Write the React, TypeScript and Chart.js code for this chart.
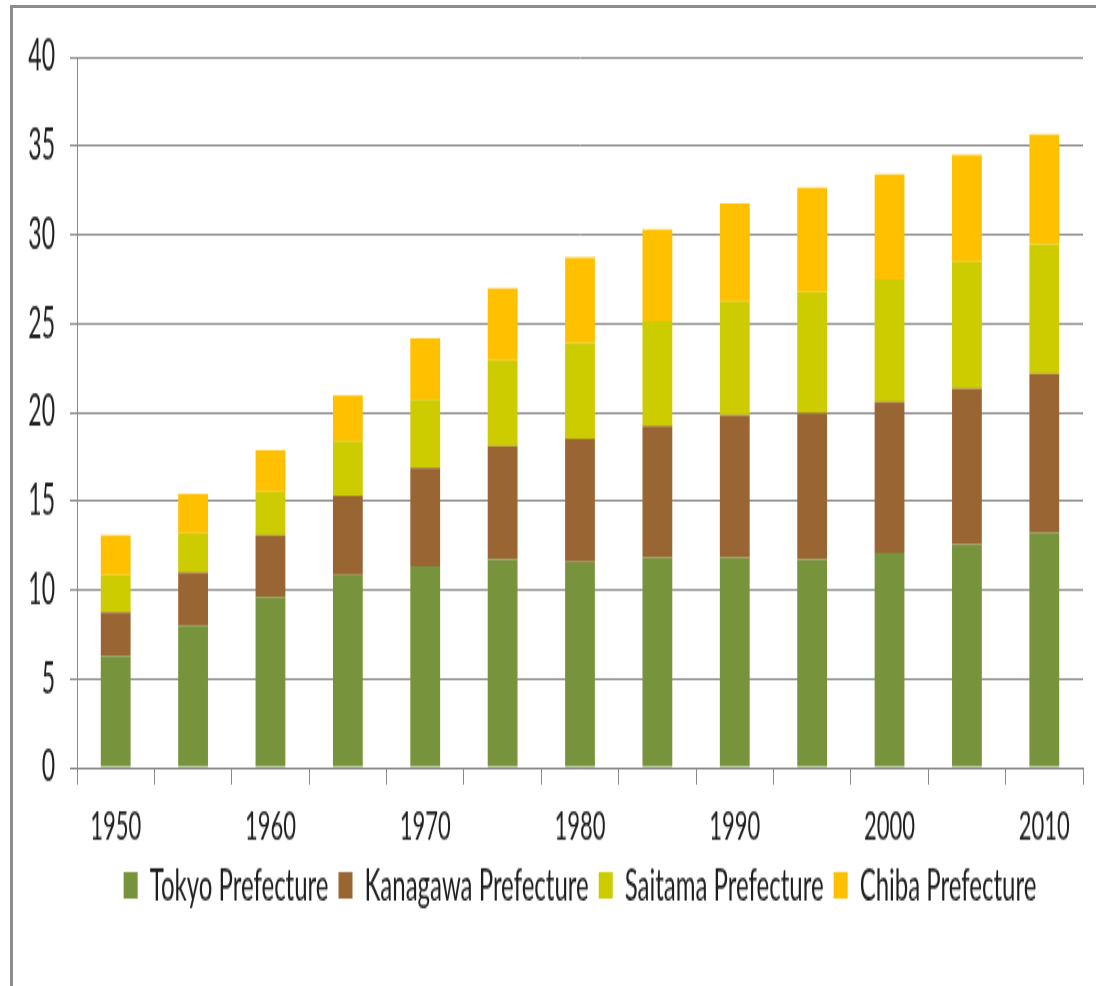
import React, { useEffect, useRef } from "react";
import { Chart, registerables } from "chart.js";

Chart.register(...registerables);

// ---- data ----
const years = ["1950", "1955", "1960", "1965", "1970", "1975", "1980", "1985", "1990", "1995", "2000", "2005", "2010"];
const xTickLabels = ["1950", "", "1960", "", "1970", "", "1980", "", "1990", "", "2000", "", "2010"];
const tokyo = [6.29, 8.0, 9.6, 10.84, 11.35, 11.71, 11.58, 11.82, 11.82, 11.71, 12.08, 12.57, 13.2];
const kanagawa = [2.45, 2.98, 3.47, 4.45, 5.53, 6.4, 6.91, 7.4, 8.02, 8.24, 8.5, 8.76, 8.97];
const saitama = [2.09, 2.2, 2.46, 3.08, 3.83, 4.8, 5.42, 5.91, 6.4, 6.81, 6.9, 7.15, 7.29];
const chiba = [2.25, 2.23, 2.34, 2.58, 3.46, 4.08, 4.8, 5.17, 5.53, 5.9, 5.91, 6.02, 6.17];
const seriesNames = ["Tokyo Prefecture", "Kanagawa Prefecture", "Saitama Prefecture", "Chiba Prefecture"];
const seriesColors = ["#77933C", "#996633", "#CCCC00", "#FFC000"];
const yMin = 0;
const yMax = 40;
const yStep = 5;

// ---- layout ----
const PAGE_W = 1096;
const PAGE_H = 986;
const CANVAS_H = 519;
const STRETCH = PAGE_H / CANVAS_H;
const FONT = "Lato, 'Open Sans', sans-serif";
const TEXT = "#1f1f1f";
const GRID = "#8a8a8a";

export default function App() {
  const ref = useRef<HTMLCanvasElement | null>(null);

  useEffect(() => {
    const canvas = ref.current;
    if (!canvas) return;
    const seriesValues = [tokyo, kanagawa, saitama, chiba];
    const chart = new Chart(canvas, {
      type: "bar",
      data: {
        labels: years,
        datasets: seriesValues.map((vals, i) => ({
          label: seriesNames[i],
          data: vals,
          backgroundColor: seriesColors[i],
          borderWidth: 0,
          categoryPercentage: 1,
          barPercentage: 0.385,
        })),
      },
      options: {
        responsive: false,
        animation: false,
        layout: { padding: { left: 0, right: 13, top: 30, bottom: 31 } },
        plugins: {
          legend: {
            position: "bottom",
            fullSize: false,
            labels: {
              boxWidth: 14,
              boxHeight: 14,
              padding: 10,
              color: TEXT,
              font: { family: FONT, size: 24 },
            },
          },
          tooltip: { enabled: false },
        },
        scales: {
          x: {
            stacked: true,
            grid: {
              display: true,
              drawOnChartArea: false,
              drawTicks: true,
              tickLength: 9,
              color: GRID,
              lineWidth: 1,
              offset: true,
            },
            border: { display: true, color: GRID, width: 1 },
            ticks: {
              autoSkip: false,
              maxRotation: 0,
              minRotation: 0,
              padding: 9,
              color: TEXT,
              font: { family: FONT, size: 22 },
              callback: (_v: any, i: number) => xTickLabels[i],
            },
            afterFit: (scale: any) => {
              scale.height = 40;
            },
          },
          y: {
            stacked: true,
            min: yMin,
            max: yMax,
            ticks: {
              stepSize: yStep,
              padding: 15,
              color: TEXT,
              font: { family: FONT, size: 23 },
            },
            grid: { color: GRID, lineWidth: 1, tickLength: 7 },
            border: { display: true, color: GRID, width: 1 },
            afterFit: (scale: any) => {
              scale.width = 77;
            },
          },
        },
      },
    });
    return () => chart.destroy();
  }, []);

  return (
    <div
      style={{
        position: "absolute",
        left: 0,
        top: 0,
        width: PAGE_W,
        height: PAGE_H,
        overflow: "hidden",
        background: "#fff",
      }}
    >
      <div
        style={{
          position: "absolute",
          left: 10,
          top: 5,
          width: 1400,
          height: 1400,
          borderTop: "3px solid #8c8c8c",
          borderLeft: "3px solid #8c8c8c",
          boxSizing: "border-box",
        }}
      />
      <div
        style={{
          position: "absolute",
          left: 0,
          top: 0,
          width: PAGE_W,
          height: CANVAS_H,
          transform: `scaleY(${STRETCH})`,
          transformOrigin: "0 0",
        }}
      >
        <canvas ref={ref} width={PAGE_W} height={CANVAS_H} style={{ display: "block" }} />
      </div>
    </div>
  );
}
